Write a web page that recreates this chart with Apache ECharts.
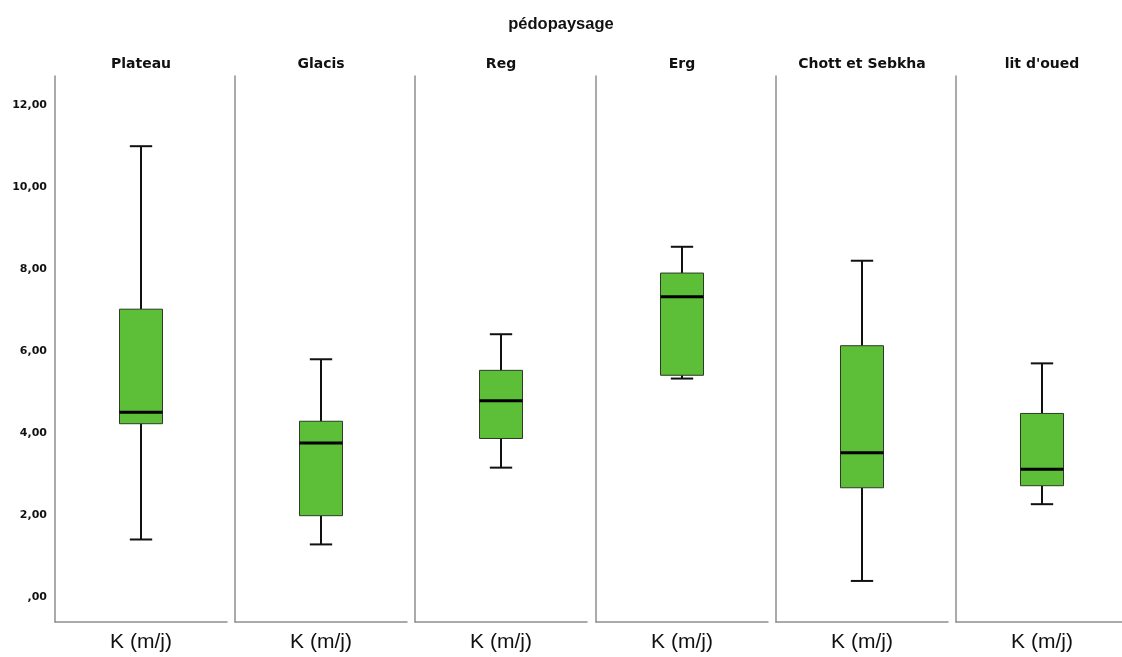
<!DOCTYPE html>
<html>
<head>
<meta charset="utf-8">
<script src="https://cdn.jsdelivr.net/npm/echarts@6/dist/echarts.min.js"></script>
<style>
  html, body { margin: 0; padding: 0; background: #fff; }
  #chart { width: 1122px; height: 657px; }
</style>
</head>
<body>
<div id="chart"></div>
<script>
// K (m/j) box statistics per landscape unit
const panels = ['Plateau', 'Glacis', 'Reg', 'Erg', 'Chott et Sebkha', "lit d'oued"];
const variable = ['K (m/j)'];
const minVals    = [1.41, 1.29, 3.16, 5.33, 0.40, 2.27];
const q1Vals     = [4.23, 1.99, 3.87, 5.41, 2.67, 2.72];
const medianVals = [4.51, 3.76, 4.79, 7.32, 3.52, 3.12];
const q3Vals     = [7.02, 4.29, 5.53, 7.90, 6.13, 4.48];
const maxVals    = [10.99, 5.80, 6.41, 8.54, 8.20, 5.70];
const yTickValues = [0, 2, 4, 6, 8, 10, 12];
const yTickLabels = [',00', '2,00', '4,00', '6,00', '8,00', '10,00', '12,00'];

const chart = echarts.init(document.getElementById('chart'), null, { renderer: 'canvas' });

const GRID_TOP = 76, GRID_H = 546, GRID_W = 172, FIRST_LEFT = 55, STEP = 180.2;
const Y_MIN = -0.6, Y_MAX = 12.7;
const FONT = "'Liberation Sans', Arial, sans-serif";
const FONT_BOLD = "'DejaVu Sans', Verdana, sans-serif";
const AXIS_GRAY = '#8e8e8e';
const TITLE_PAD = 5; // title component's default padding

const grids = [], xAxes = [], yAxes = [], series = [];
const titles = [{
  text: 'pédopaysage',
  left: 561 - TITLE_PAD, top: 11, textAlign: 'center',
  textStyle: { fontFamily: FONT, fontSize: 16.5, fontWeight: 'bold', color: '#111' }
}];

panels.forEach((name, i) => {
  const left = Math.round(FIRST_LEFT + i * STEP);
  // the last panel runs past the right edge of the canvas
  grids.push({ left: left, top: GRID_TOP, width: GRID_W, height: GRID_H, outerBoundsMode: 'none' });
  titles.push({
    text: name,
    left: left + GRID_W / 2 - TITLE_PAD, top: 52, textAlign: 'center',
    textStyle: { fontFamily: FONT_BOLD, fontSize: 14, fontWeight: 'bold', color: '#111' }
  });
  xAxes.push({
    type: 'category', gridIndex: i, data: variable,
    axisLine: { show: true, onZero: false, lineStyle: { color: AXIS_GRAY, width: 1.5 } },
    axisTick: { show: false },
    axisLabel: { margin: 10, fontFamily: FONT, fontSize: 21, color: '#111' },
    splitLine: { show: false }
  });
  yAxes.push({
    type: 'value', gridIndex: i, min: Y_MIN, max: Y_MAX,
    axisLine: { show: true, onZero: false, lineStyle: { color: AXIS_GRAY, width: 1.5 } },
    axisTick: { show: false },
    splitLine: { show: false },
    axisLabel: {
      show: i === 0,
      customValues: yTickValues,
      margin: 8,
      fontFamily: FONT_BOLD, fontSize: 11, fontWeight: 'bold', color: '#111',
      formatter: v => {
        const k = yTickValues.indexOf(v);
        return k >= 0 ? yTickLabels[k] : '';
      }
    }
  });
  series.push({
    type: 'custom',
    xAxisIndex: i, yAxisIndex: i,
    data: [[0, minVals[i], q1Vals[i], medianVals[i], q3Vals[i], maxVals[i]]],
    encode: { x: 0, y: [1, 2, 3, 4, 5] },
    renderItem: (params, api) => {
      const band = api.size([1, 0])[0];
      const boxW = band * 0.25;
      const capW = band * 0.13;
      const pMin = api.coord([api.value(0), api.value(1)]);
      const pQ1 = api.coord([api.value(0), api.value(2)]);
      const pMed = api.coord([api.value(0), api.value(3)]);
      const pQ3 = api.coord([api.value(0), api.value(4)]);
      const pMax = api.coord([api.value(0), api.value(5)]);
      const cx = pMed[0];
      const lineStyle = { stroke: '#111', lineWidth: 2 };
      return {
        type: 'group',
        children: [
          { type: 'line', shape: { x1: cx, y1: pMax[1], x2: cx, y2: pQ3[1] }, style: lineStyle },
          { type: 'line', shape: { x1: cx, y1: pQ1[1], x2: cx, y2: pMin[1] }, style: lineStyle },
          { type: 'line', shape: { x1: cx - capW / 2, y1: pMax[1], x2: cx + capW / 2, y2: pMax[1] }, style: lineStyle },
          { type: 'line', shape: { x1: cx - capW / 2, y1: pMin[1], x2: cx + capW / 2, y2: pMin[1] }, style: lineStyle },
          {
            type: 'rect',
            shape: { x: cx - boxW / 2, y: pQ3[1], width: boxW, height: pQ1[1] - pQ3[1] },
            style: { fill: '#5dbf38', stroke: '#2c3a26', lineWidth: 1 }
          },
          { type: 'line', shape: { x1: cx - boxW / 2, y1: pMed[1], x2: cx + boxW / 2, y2: pMed[1] }, style: { stroke: '#000', lineWidth: 3 } }
        ]
      };
    }
  });
});

chart.setOption({
  backgroundColor: '#fff',
  animation: false,
  title: titles,
  grid: grids,
  xAxis: xAxes,
  yAxis: yAxes,
  series: series
});
</script>
</body>
</html>
